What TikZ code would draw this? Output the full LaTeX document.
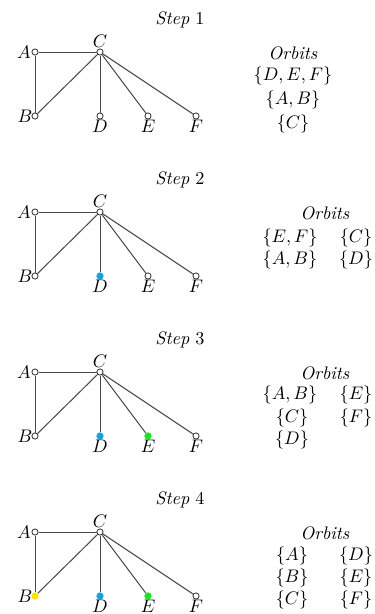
\documentclass[tikz,border=0pt]{standalone}
\begin{document}
\definecolor{dotblue}{RGB}{20,160,230}
\definecolor{dotgreen}{RGB}{25,230,25}
\definecolor{dotyellow}{RGB}{255,228,0}
\tikzset{
  vtx/.style={circle,inner sep=0pt,minimum size=3.4pt,draw=black!80,line width=0.45pt,fill=white},
  cvtx/.style={circle,inner sep=0pt,minimum size=4pt,draw=none,fill=#1},
  edge/.style={draw=black!72,line width=0.55pt},
  lbl/.style={inner sep=0pt},
}
\newcommand\stepgraph[6]{%
  \begin{scope}[shift={(0,#2)}]
    \node[lbl] (T#1) at (180,20) {\textit{Step} #1};
    \node[#3] (A#1) at (35,52) {};
    \node[vtx] (C#1) at (100,52) {};
    \node[#4] (B#1) at (35,116) {};
    \node[#5] (D#1) at (100,116) {};
    \node[#6] (E#1) at (148,116) {};
    \node[vtx] (F#1) at (196,116) {};
    \draw[edge] (A#1) -- (C#1);
    \draw[edge] (A#1) -- (B#1);
    \draw[edge] (B#1) -- (C#1);
    \draw[edge] (C#1) -- (D#1);
    \draw[edge] (C#1) -- (E#1);
    \draw[edge] (C#1) -- (F#1);
    \node[lbl] (LA#1) at (24,52) {$A$};
    \node[lbl] (LB#1) at (25,116) {$B$};
    \node[lbl] (LC#1) at (100,41) {$C$};
    \node[lbl] (LD#1) at (100,126) {$D$};
    \node[lbl] (LE#1) at (148,126) {$E$};
    \node[lbl] (LF#1) at (196,126) {$F$};
  \end{scope}}
\begin{tikzpicture}[x=0.55pt,y=-0.55pt]
\useasboundingbox (0,0) rectangle (375,614);
\stepgraph{1}{0}{vtx}{vtx}{vtx}{vtx}
\stepgraph{2}{160}{vtx}{vtx}{cvtx=dotblue}{vtx}
\stepgraph{3}{320}{vtx}{vtx}{cvtx=dotblue}{cvtx=dotgreen}
\stepgraph{4}{480}{vtx}{cvtx=dotyellow}{cvtx=dotblue}{cvtx=dotgreen}
% Orbits step 1
\node[lbl] (O1) at (293,53) {\textit{Orbits}};
\node[lbl] (O1a) at (293,76) {$\{D,E,F\}$};
\node[lbl] (O1b) at (293,100) {$\{A,B\}$};
\node[lbl] (O1c) at (293,124) {$\{C\}$};
% Orbits step 2
\node[lbl] (O2) at (325,213) {\textit{Orbits}};
\node[lbl] (O2a) at (290,238) {$\{E,F\}$};
\node[lbl] (O2b) at (356,238) {$\{C\}$};
\node[lbl] (O2c) at (290,260) {$\{A,B\}$};
\node[lbl] (O2d) at (356,260) {$\{D\}$};
% Orbits step 3
\node[lbl] (O3) at (325,373) {\textit{Orbits}};
\node[lbl] (O3a) at (290,395) {$\{A,B\}$};
\node[lbl] (O3b) at (356,395) {$\{E\}$};
\node[lbl] (O3c) at (292,418) {$\{C\}$};
\node[lbl] (O3d) at (356,418) {$\{F\}$};
\node[lbl] (O3e) at (292,440) {$\{D\}$};
% Orbits step 4
\node[lbl] (O4) at (325,533) {\textit{Orbits}};
\node[lbl] (O4a) at (292,556) {$\{A\}$};
\node[lbl] (O4b) at (356,556) {$\{D\}$};
\node[lbl] (O4c) at (292,578) {$\{B\}$};
\node[lbl] (O4d) at (356,578) {$\{E\}$};
\node[lbl] (O4e) at (292,600) {$\{C\}$};
\node[lbl] (O4f) at (356,600) {$\{F\}$};
\end{tikzpicture}
\end{document}
